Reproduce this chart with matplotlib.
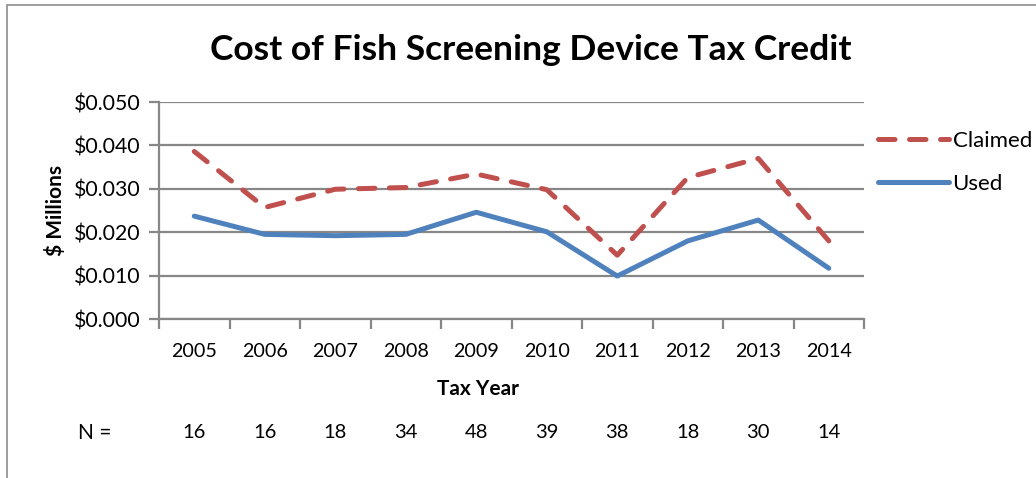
"""Cost of Fish Screening Device Tax Credit — claimed vs used, 2005-2014."""

import matplotlib
matplotlib.use("Agg")
import matplotlib.pyplot as plt
import matplotlib.transforms as mtransforms
from matplotlib.patches import Rectangle
from matplotlib.ticker import FixedLocator, FuncFormatter

plt.rcParams["font.family"] = ["Lato", "DejaVu Sans"]

# ── Data ──────────────────────────────────────────────────────────────────────
years = ["2005", "2006", "2007", "2008", "2009",
         "2010", "2011", "2012", "2013", "2014"]
claimed = [0.0386, 0.0257, 0.0299, 0.0303, 0.0334,
           0.0298, 0.0147, 0.0326, 0.0370, 0.0180]
used = [0.0237, 0.0195, 0.0192, 0.0195, 0.0246,
        0.0201, 0.0099, 0.0180, 0.0228, 0.0117]
n_counts = [16, 16, 18, 34, 48, 39, 38, 18, 30, 14]
y_ticks = [0.0, 0.01, 0.02, 0.03, 0.04, 0.05]

GRID = "#878787"
RED = "#C0504D"
BLUE = "#4F81BD"

# ── Figure ────────────────────────────────────────────────────────────────────
fig = plt.figure(figsize=(10.36, 4.78), dpi=100)
ax = fig.add_axes([0.1535, 0.3326, 0.6805, 0.454])

# chart-area border (runs off the right/bottom of the crop)
fig.patches.append(Rectangle((7 / 1036, -0.05), 1.2, 1 - 5 / 478 + 0.05,
                             transform=fig.transFigure, fill=False,
                             edgecolor="#8c8c8c", linewidth=1.2))

x = list(range(len(years)))
ax.plot(x, claimed, color=RED, lw=3.6, dashes=(3.3, 2.9),
        dash_capstyle="round", label="Claimed")
ax.plot(x, used, color=BLUE, lw=3.6, solid_capstyle="round", label="Used")

ax.set_xlim(-0.5, len(years) - 0.5)
ax.set_ylim(0, 0.05)
ax.yaxis.set_major_locator(FixedLocator(y_ticks))
ax.yaxis.set_major_formatter(FuncFormatter(lambda v, _: f"${v:.3f}"))
ax.grid(axis="y", color=GRID, lw=1.6)
ax.set_axisbelow(True)

# category boundaries as ticks, labels at centres
ax.set_xticks([i - 0.5 for i in range(len(years) + 1)])
ax.set_xticklabels([])
ax.set_xticks(x, minor=True)
ax.set_xticklabels(years, minor=True, fontsize=14.2)
ax.tick_params(axis="x", which="major", length=7, width=1.6, color=GRID)
ax.tick_params(axis="x", which="minor", length=0, pad=17)
ax.tick_params(axis="y", length=7, width=1.6, color=GRID, labelsize=15.3, pad=6)

for side in ("top", "right"):
    ax.spines[side].set_visible(False)
for side in ("left", "bottom"):
    ax.spines[side].set_color(GRID)
    ax.spines[side].set_linewidth(1.6)

ax.set_ylabel("$ Millions", fontsize=15, fontweight="bold", labelpad=6)

fig.text(0.512, 0.895, "Cost of Fish Screening Device Tax Credit",
         ha="center", va="center", fontsize=25.5, fontweight="bold")
fig.text(478 / 1036, 1 - 389 / 478, "Tax Year",
         ha="center", va="center", fontsize=15, fontweight="bold")

# N row under the axis
trans = mtransforms.blended_transform_factory(ax.transData, fig.transFigure)
fig.text(95 / 1036, 1 - 433 / 478, "N =", ha="center", va="center", fontsize=15)
for i, n in enumerate(n_counts):
    ax.text(i, 1 - 433 / 478, str(n), transform=trans,
            ha="center", va="center", fontsize=14.5)

leg = fig.legend(loc="upper left", bbox_to_anchor=(0.839, 0.745), frameon=False,
                 fontsize=16, handlelength=3.2, handletextpad=0.15,
                 labelspacing=1.05, borderaxespad=0)

fig.savefig("out.png", dpi=100)
